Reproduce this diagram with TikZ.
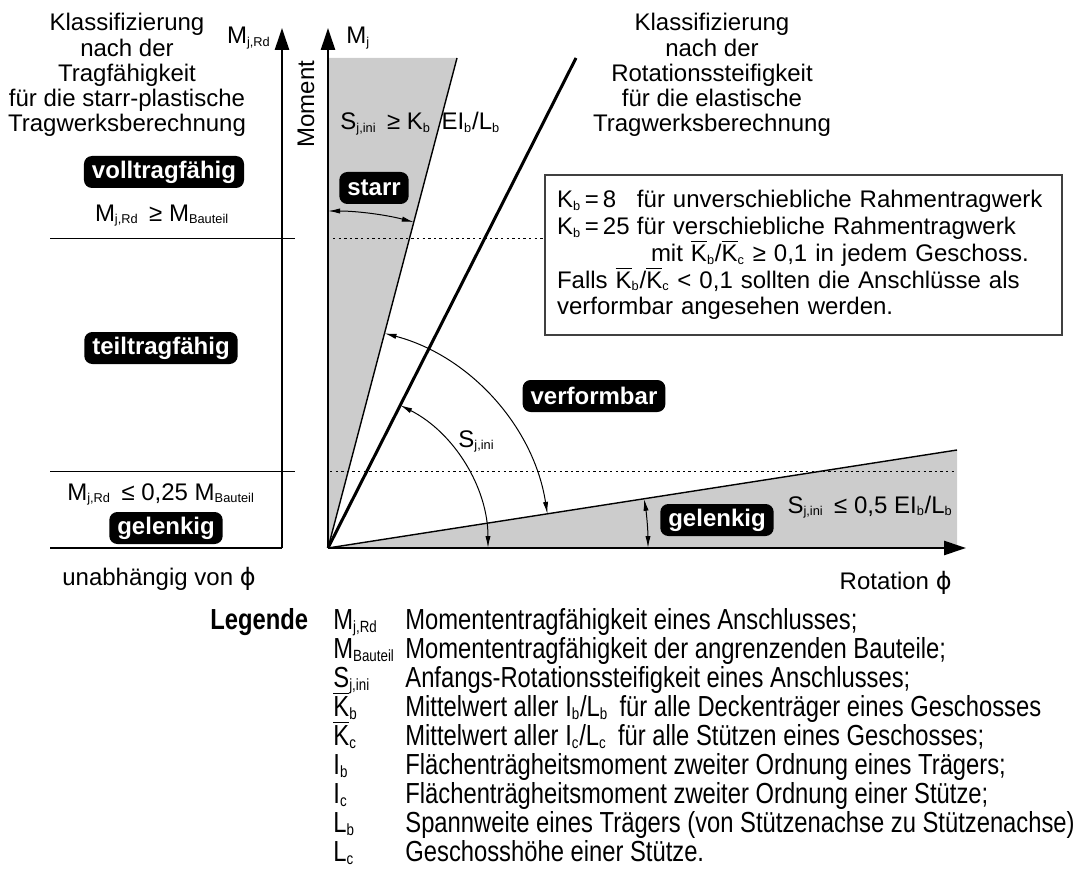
\documentclass[tikz,border=0pt]{standalone}
\usepackage{fontspec}
\usepackage{graphicx}
\setmainfont{Liberation Sans}
\newfontfamily\legfont[FakeStretch=0.82]{Liberation Sans}
\newfontfamily\phifont{DejaVu Sans}
\usetikzlibrary{arrows.meta}
\definecolor{keil}{gray}{0.80}
\newcommand{\ix}[1]{\scalebox{0.8}{\textsubscript{#1}}}
\newcommand{\Kq}[1]{$\overline{\mbox{K}}$\ix{#1}}
\newcommand{\phis}{{\phifont ϕ}}

\begin{document}
\begin{tikzpicture}[x=0.5pt,y=0.5pt,
  every node/.style={font=\fontsize{12}{12.6}\selectfont, inner sep=0pt},
  tag/.style={fill=black, text=white, font=\fontsize{12}{12.6}\selectfont\bfseries,
    rounded corners=4pt, inner xsep=4pt, minimum height=16pt},
  achse/.style={line width=1.3pt, -{Triangle[length=11pt,width=7pt]}},
  bogen/.style={line width=0.5pt, {Latex[length=6pt,width=2.6pt]}-{Latex[length=6pt,width=2.6pt]}},
  punkt/.style={line width=0.5pt, dash pattern=on 1.2pt off 1.6pt},
  legtxt/.style={font=\fontsize{14.5}{15}\selectfont\legfont, anchor=base west}]
\useasboundingbox (0,0) rectangle (1077,-883);

\coordinate (O) at (328,-548);
\coordinate (Oy) at (328,-28);
\coordinate (Ox) at (966,-548);
\coordinate (L0) at (282,-548);
\coordinate (Ly) at (282,-28);
\coordinate (Kstarr) at (457,-58);
\coordinate (Kmitte) at (576,-58);
\coordinate (Kgelenk) at (957,-450);

% graue Keile
\fill[keil] (O) -- (328,-58) -- (Kstarr) -- cycle;
\fill[keil] (O) -- (Kgelenk) -- (957,-548) -- cycle;

\draw[line width=0.5pt] (50,-238) -- (295,-238);
\draw[line width=0.5pt] (50,-471) -- (295,-471);
\draw[line width=1pt] (50,-548) -- (L0);
\draw[punkt] (333,-238) -- (545,-238);
\draw[punkt] (330,-471) -- (957,-471);

\draw[line width=0.7pt] (O) -- (Kstarr);
\draw[line width=1.5pt] (O) -- (Kmitte);
\draw[line width=0.7pt] (O) -- (Kgelenk);

\draw[achse] (L0) -- (Ly);
\draw[achse] (O) -- (Oy);
\draw[achse] (O) -- (Ox);

% Boegen
\draw[bogen] ([shift={(90:337)}]O) arc[start angle=90, end angle=75.25, radius=337];
\draw[bogen] ([shift={(8.84:222)}]O) arc[start angle=8.84, end angle=75.25, radius=222];
\draw[bogen] ([shift={(0:160)}]O) arc[start angle=0, end angle=63.16, radius=160];
\draw[bogen] ([shift={(0:320)}]O) arc[start angle=0, end angle=8.84, radius=320];

% Texte links
\node[align=center] (titelL) at (127,-75) {Klassifizierung\\nach der\\Tragfähigkeit\\für die starr-plastische\\Tragwerksberechnung};
\node[anchor=base east] (mjrd) at (271,-44) {M\ix{j,Rd}};
\node[rotate=90] (moment) at (306,-104) {Moment};
\node[tag] (voll) at (164,-172) {volltragfähig};
\node[anchor=base] (gross) at (162,-221) {M\ix{j,Rd}\, ≥ M\ix{Bauteil}};
\node[tag] (teil) at (161,-348) {teiltragfähig};
\node[anchor=base] (klein) at (161,-500) {M\ix{j,Rd}\, ≤ 0,25 M\ix{Bauteil}};
\node[tag] (gelL) at (166,-528) {gelenkig};
\node[anchor=base] (unabh) at (159,-585) {unabhängig von \phis};

% Texte Diagramm
\node[anchor=base west] (mj) at (346,-44) {M\ix{j}};
\node[align=center] (titelR) at (712,-75) {Klassifizierung\\nach der\\Rotationssteifigkeit\\für die elastische\\Tragwerksberechnung};
\node[anchor=base west] (sstarr) at (340,-130) {S\ix{j,ini}\, ≥ K\ix{b}\, EI\ix{b}/L\ix{b}};
\node[tag] (starr) at (374,-188) {starr};
\node[anchor=base west] (sini) at (458,-447) {S\ix{j,ini}};
\node[tag] (verf) at (594,-396) {verformbar};
\node[tag] (gelR) at (717,-520) {gelenkig};
\node[anchor=base east] (sgel) at (953,-513) {S\ix{j,ini}\, ≤ 0,5 EI\ix{b}/L\ix{b}};
\node[anchor=base east] (rot) at (952,-589) {Rotation \phis};

\node[draw=black!75, line width=0.6pt, minimum width=258.5pt, minimum height=80pt,
  inner xsep=6pt, text width=246.5pt, align=left,
  font=\fontsize{12}{13.4}\selectfont] (info) at (803.5,-255)
  {\makebox[40pt][l]{K\ix{b}\,=\,8}für unverschiebliche Rahmentragwerk\\
   \makebox[40pt][l]{K\ix{b}\,=\,25}für verschiebliche Rahmentragwerk\\
   \hspace*{47pt}mit \Kq{b}/\Kq{c} ≥ 0,1 in jedem Geschoss.\\
   Falls \Kq{b}/\Kq{c} < 0,1 sollten die Anschlüsse als\\
   verformbar angesehen werden.};

% Legende
\node[legtxt, font=\fontsize{14.5}{15}\selectfont\legfont\bfseries] (leg) at (210,-629) {Legende};
\node[legtxt] (s1) at (333,-629) {M\ix{j,Rd}};
\node[legtxt] (t1) at (405,-629) {Momententragfähigkeit eines Anschlusses;};
\node[legtxt] (s2) at (333,-658) {M\ix{Bauteil}};
\node[legtxt] (t2) at (405,-658) {Momententragfähigkeit der angrenzenden Bauteile;};
\node[legtxt] (s3) at (333,-687) {S\ix{j,ini}};
\node[legtxt] (t3) at (405,-687) {Anfangs-Rotationssteifigkeit eines Anschlusses;};
\node[legtxt] (s4) at (333,-716) {\Kq{b}};
\node[legtxt] (t4) at (405,-716) {Mittelwert aller I\ix{b}/L\ix{b}\, für alle Deckenträger eines Geschosses};
\node[legtxt] (s5) at (333,-745) {\Kq{c}};
\node[legtxt] (t5) at (405,-745) {Mittelwert aller I\ix{c}/L\ix{c}\, für alle Stützen eines Geschosses;};
\node[legtxt] (s6) at (333,-774) {I\ix{b}};
\node[legtxt] (t6) at (405,-774) {Flächenträgheitsmoment zweiter Ordnung eines Trägers;};
\node[legtxt] (s7) at (333,-803) {I\ix{c}};
\node[legtxt] (t7) at (405,-803) {Flächenträgheitsmoment zweiter Ordnung einer Stütze;};
\node[legtxt] (s8) at (333,-832) {L\ix{b}};
\node[legtxt] (t8) at (405,-832) {Spannweite eines Trägers (von Stützenachse zu Stützenachse)};
\node[legtxt] (s9) at (333,-861) {L\ix{c}};
\node[legtxt] (t9) at (405,-861) {Geschosshöhe einer Stütze.};
\end{tikzpicture}
\end{document}
